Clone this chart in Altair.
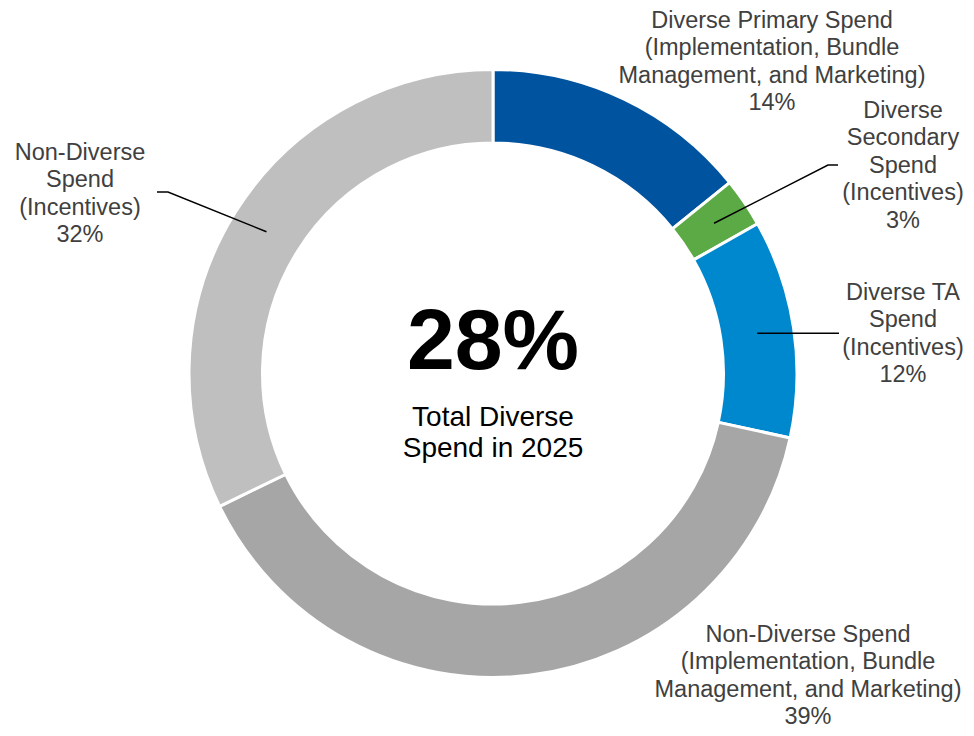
import math
import altair as alt
import pandas as pd

# ---- data ----
categories = [
    "Diverse Primary Spend",
    "Diverse Secondary Spend",
    "Diverse TA Spend",
    "Non-Diverse Spend (Impl.)",
    "Non-Diverse Spend (Incentives)",
]
shares = [14.2, 2.6, 11.6, 39.4, 32.2]
label_texts = [
    "Diverse Primary Spend\n(Implementation, Bundle\nManagement, and Marketing)\n14%",
    "Diverse\nSecondary\nSpend\n(Incentives)\n3%",
    "Diverse TA\nSpend\n(Incentives)\n12%",
    "Non-Diverse Spend\n(Implementation, Bundle\nManagement, and Marketing)\n39%",
    "Non-Diverse\nSpend\n(Incentives)\n32%",
]
colors = ["#00539F", "#5BAA46", "#0088CE", "#A6A6A6", "#BFBFBF"]
center_value = "28%"
center_caption = "Total Diverse\nSpend in 2025"

# ---- layout (plot pixel space) ----
W, H = 958, 720
CX, CY = 485, 365.5
R_OUT, R_IN = 304, 230.5
R_MID = (R_OUT + R_IN) / 2
label_pos = [(764, 20), (895, 110), (895, 292), (800, 634), (72, 152)]
leader_bends = {1: [(820, 157), (830, 157)], 2: [(831, None)], 4: [(160, 184), (149, 184)]}

df = pd.DataFrame({
    "cat": categories, "share": shares, "order": list(range(len(categories))),
    "label": label_texts, "lx": [p[0] for p in label_pos], "ly": [p[1] for p in label_pos],
})

# leader lines start at slice midpoints
total = sum(shares)
rows = []
cum = 0.0
for i, s in enumerate(shares):
    mid = (cum + s / 2) / total * 2 * math.pi
    cum += s
    if i not in leader_bends:
        continue
    sx = CX + R_MID * math.sin(mid)
    sy = CY - R_MID * math.cos(mid)
    pts = [(sx, sy)] + [(bx, sy if by is None else by) for bx, by in leader_bends[i]]
    for k, (px, py) in enumerate(pts):
        rows.append({"g": i, "k": k, "x": px, "y": py})
leaders = pd.DataFrame(rows)

xs = alt.Scale(domain=[0, W], nice=False, zero=False)
ys = alt.Scale(domain=[0, H], nice=False, zero=False, reverse=True)

arcs = alt.Chart(df).mark_arc(
    radius=R_OUT, innerRadius=R_IN, stroke="white", strokeWidth=3
).encode(
    theta=alt.Theta("share:Q", stack=True),
    order=alt.Order("order:Q"),
    color=alt.Color("cat:N", scale=alt.Scale(domain=categories, range=colors), legend=None),
    x=alt.value(CX),
    y=alt.value(CY),
)

lines = alt.Chart(leaders).mark_line(color="black", strokeWidth=1.5).encode(
    x=alt.X("x:Q", scale=xs, axis=None),
    y=alt.Y("y:Q", scale=ys, axis=None),
    detail="g:N",
    order="k:Q",
)

labels = alt.Chart(df).mark_text(
    font="Liberation Sans", fontSize=23.5, color="#404040", align="center",
    baseline="alphabetic", lineBreak="\n", lineHeight=27.4,
).encode(
    x=alt.X("lx:Q", scale=xs, axis=None),
    y=alt.Y("ly:Q", scale=ys, axis=None),
    text="label:N",
)

center_df = pd.DataFrame({"t": [center_value], "c": [center_caption]})
big = alt.Chart(center_df).mark_text(
    font="Liberation Sans", fontSize=86, fontWeight="bold", color="black",
    align="center", baseline="alphabetic",
).encode(x=alt.value(CX), y=alt.value(361), text="t:N")
cap = alt.Chart(center_df).mark_text(
    font="Liberation Sans", fontSize=28, color="black", align="center",
    baseline="alphabetic", lineBreak="\n", lineHeight=31,
).encode(x=alt.value(CX), y=alt.value(418), text="c:N")

chart = alt.layer(arcs, lines, labels, big, cap).properties(
    width=W, height=H, padding=0, autosize=alt.AutoSizeParams(type="none")
).configure_view(stroke=None)

chart.save("out.html", embed_options={"renderer": "svg", "actions": False})
